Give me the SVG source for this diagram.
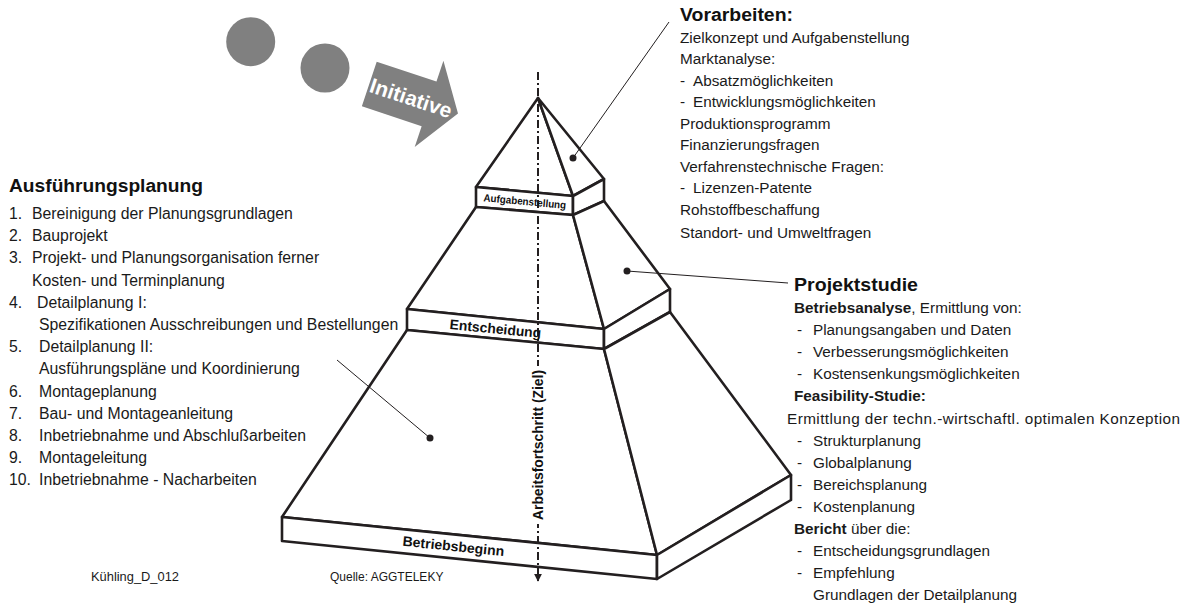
<svg xmlns="http://www.w3.org/2000/svg" width="1189" height="606" viewBox="0 0 1189 606">
  <defs>
    <style>
      .face { fill: #ffffff; stroke: #231f20; stroke-width: 2.6; stroke-linejoin: round; }
      .txt { font-family: "Liberation Sans", Arial, sans-serif; font-size: 15.3px; fill: #1a1a1a; }
      .lt { font-size: 15.8px; }
      .hd { font-family: "Liberation Sans", Arial, sans-serif; font-size: 17.5px; font-weight: bold; fill: #111111; }
      .b { font-weight: bold; }
      .band { font-family: "Liberation Sans", Arial, sans-serif; font-weight: bold; fill: #111111; }
      .small { font-family: "Liberation Sans", Arial, sans-serif; font-size: 12px; fill: #1a1a1a; }
      .leader { stroke: #231f20; stroke-width: 1; fill: none; }
      .dot { fill: #231f20; }
      .grey { fill: #808080; }
    </style>
    <marker id="axisHead" viewBox="0 0 10 10" refX="9" refY="5" markerWidth="4" markerHeight="4" orient="auto">
      <path d="M0,0 L10,5 L0,10 z" fill="#231f20"/>
    </marker>
  </defs>

  <!-- initiative symbol: two dots and a block arrow -->
  <g id="initiative">
    <circle class="grey" cx="250.7" cy="41.7" r="24.5"/>
    <circle class="grey" cx="325" cy="68" r="24.5"/>
    <g transform="translate(376.7,61.7) rotate(18.4)">
      <path class="grey" d="M0,0 L63,0 L63,-22 L93.5,23.5 L63,69 L63,47 L0,47 z"/>
      <text x="44" y="31" text-anchor="middle" font-family="Liberation Sans, Arial, sans-serif" font-size="21" font-weight="bold" fill="#ffffff">Initiative</text>
    </g>
  </g>

  <!-- pyramid: top tier -->
  <g id="tier-top">
    <polygon class="face" points="538,98 476,187 573,196"/>
    <polygon class="face" points="538,98 573,196 604,179"/>
  </g>
  <g id="band-aufgabenstellung">
    <polygon class="face" points="476,187 573,196 573,215 476,207"/>
    <polygon class="face" points="573,196 604,179 604,201 573,215"/>
  </g>

  <!-- pyramid: middle tier -->
  <g id="tier-middle">
    <polygon class="face" points="476,207 573,215 604,329 407,309"/>
    <polygon class="face" points="573,215 604,201 670,289 604,329"/>
  </g>
  <g id="band-entscheidung">
    <polygon class="face" points="407,309 604,329 604,349 407,330"/>
    <polygon class="face" points="604,329 670,289 670,312 604,349"/>
  </g>

  <!-- pyramid: bottom tier -->
  <g id="tier-bottom">
    <polygon class="face" points="407,330 604,349 657,555 282,517"/>
    <polygon class="face" points="604,349 670,312 791,475 657,555"/>
  </g>
  <g id="band-betriebsbeginn">
    <polygon class="face" points="282,517 657,555 657,579 282,541"/>
    <polygon class="face" points="657,555 791,475 791,500 657,579"/>
  </g>

  <!-- progress axis -->
  <g id="axis">
    <line x1="538" y1="72" x2="538" y2="581" stroke="#231f20" stroke-width="2" stroke-dasharray="8 3 2 3" marker-end="url(#axisHead)"/>
    <rect x="529" y="366" width="18" height="158" fill="#ffffff"/>
    <text class="band" font-size="14" transform="translate(543,445) rotate(-90)" text-anchor="middle" textLength="150" lengthAdjust="spacingAndGlyphs">Arbeitsfortschritt (Ziel)</text>
  </g>

  <!-- band labels -->
  <g id="band-labels">
    <text class="band" font-size="10.5" transform="translate(524.5,205) rotate(5.3)" text-anchor="middle" textLength="83" lengthAdjust="spacingAndGlyphs">Aufgabenstellung</text>
    <text class="band" font-size="14" transform="translate(495,333.5) rotate(5.5)" text-anchor="middle" textLength="92" lengthAdjust="spacingAndGlyphs">Entscheidung</text>
    <text class="band" font-size="14" transform="translate(453,551) rotate(5.8)" text-anchor="middle" textLength="102" lengthAdjust="spacingAndGlyphs">Betriebsbeginn</text>
  </g>

  <!-- leader lines from faces to their descriptions -->
  <g id="connectors">
    <line class="leader" x1="573" y1="158" x2="669" y2="22"/>
    <circle class="dot" cx="573" cy="158" r="3.5"/>
    <line class="leader" x1="627" y1="271" x2="788" y2="283"/>
    <circle class="dot" cx="627" cy="271" r="3.5"/>
    <line class="leader" x1="337" y1="360" x2="430" y2="438"/>
    <circle class="dot" cx="430" cy="438" r="3.5"/>
  </g>

  <!-- Vorarbeiten -->
  <g id="text-vorarbeiten">
    <text class="hd" x="680" y="21" textLength="113" lengthAdjust="spacingAndGlyphs">Vorarbeiten:</text>
    <text class="txt" x="680" y="42.5">Zielkonzept und Aufgabenstellung</text>
    <text class="txt" x="680" y="64">Marktanalyse:</text>
    <text class="txt" x="680" y="85.5">-</text>
    <text class="txt" x="693" y="85.5">Absatzmöglichkeiten</text>
    <text class="txt" x="680" y="107">-</text>
    <text class="txt" x="693" y="107">Entwicklungsmöglichkeiten</text>
    <text class="txt" x="680" y="128.5">Produktionsprogramm</text>
    <text class="txt" x="680" y="150">Finanzierungsfragen</text>
    <text class="txt" x="680" y="171.5">Verfahrenstechnische Fragen:</text>
    <text class="txt" x="680" y="193">-</text>
    <text class="txt" x="693" y="193">Lizenzen-Patente</text>
    <text class="txt" x="680" y="214.5">Rohstoffbeschaffung</text>
    <text class="txt" x="680" y="238">Standort- und Umweltfragen</text>
  </g>

  <!-- Projektstudie -->
  <g id="text-projektstudie">
    <text class="hd" x="794" y="291" textLength="124" lengthAdjust="spacingAndGlyphs">Projektstudie</text>
    <text class="txt" x="794" y="313"><tspan class="b">Betriebsanalyse</tspan>, Ermittlung von:</text>
    <text class="txt" x="797" y="335.1">-</text>
    <text class="txt" x="813" y="335.1">Planungsangaben und Daten</text>
    <text class="txt" x="797" y="357.2">-</text>
    <text class="txt" x="813" y="357.2">Verbesserungsmöglichkeiten</text>
    <text class="txt" x="797" y="379.3">-</text>
    <text class="txt" x="813" y="379.3">Kostensenkungsmöglichkeiten</text>
    <text class="txt b" x="794" y="401.4">Feasibility-Studie:</text>
    <text class="txt" x="787" y="423.5" textLength="393" lengthAdjust="spacing">Ermittlung der techn.-wirtschaftl. optimalen Konzeption</text>
    <text class="txt" x="797" y="445.6">-</text>
    <text class="txt" x="813" y="445.6">Strukturplanung</text>
    <text class="txt" x="797" y="467.7">-</text>
    <text class="txt" x="813" y="467.7">Globalplanung</text>
    <text class="txt" x="797" y="489.8">-</text>
    <text class="txt" x="813" y="489.8">Bereichsplanung</text>
    <text class="txt" x="797" y="511.9">-</text>
    <text class="txt" x="813" y="511.9">Kostenplanung</text>
    <text class="txt" x="794" y="534"><tspan class="b">Bericht</tspan> über die:</text>
    <text class="txt" x="797" y="556.1">-</text>
    <text class="txt" x="813" y="556.1">Entscheidungsgrundlagen</text>
    <text class="txt" x="797" y="578.2">-</text>
    <text class="txt" x="813" y="578.2">Empfehlung</text>
    <text class="txt" x="813" y="600.3">Grundlagen der Detailplanung</text>
  </g>

  <!-- Ausführungsplanung -->
  <g id="text-ausfuehrungsplanung">
    <text class="hd" x="9" y="192" textLength="194" lengthAdjust="spacingAndGlyphs">Ausführungsplanung</text>
    <text class="txt lt" x="9" y="219">1.</text>
    <text class="txt lt" x="32" y="219">Bereinigung der Planungsgrundlagen</text>
    <text class="txt lt" x="9" y="241.2">2.</text>
    <text class="txt lt" x="32" y="241.2">Bauprojekt</text>
    <text class="txt lt" x="9" y="263.4">3.</text>
    <text class="txt lt" x="32" y="263.4">Projekt- und Planungsorganisation ferner</text>
    <text class="txt lt" x="32" y="285.6">Kosten- und Terminplanung</text>
    <text class="txt lt" x="9" y="307.8">4.</text>
    <text class="txt lt" x="37" y="307.8">Detailplanung I:</text>
    <text class="txt lt" x="39" y="330">Spezifikationen Ausschreibungen und Bestellungen</text>
    <text class="txt lt" x="9" y="352.2">5.</text>
    <text class="txt lt" x="39" y="352.2">Detailplanung II:</text>
    <text class="txt lt" x="39" y="374.4">Ausführungspläne und Koordinierung</text>
    <text class="txt lt" x="9" y="396.6">6.</text>
    <text class="txt lt" x="39" y="396.6">Montageplanung</text>
    <text class="txt lt" x="9" y="418.8">7.</text>
    <text class="txt lt" x="39" y="418.8">Bau- und Montageanleitung</text>
    <text class="txt lt" x="9" y="441">8.</text>
    <text class="txt lt" x="39" y="441">Inbetriebnahme und Abschlußarbeiten</text>
    <text class="txt lt" x="9" y="463.2">9.</text>
    <text class="txt lt" x="39" y="463.2">Montageleitung</text>
    <text class="txt lt" x="9" y="485.4">10.</text>
    <text class="txt lt" x="39" y="485.4">Inbetriebnahme - Nacharbeiten</text>
  </g>

  <!-- footer -->
  <g id="footer">
    <text class="small" x="91" y="581" textLength="88" lengthAdjust="spacingAndGlyphs">Kühling_D_012</text>
    <text class="small" x="330" y="581">Quelle: AGGTELEKY</text>
  </g>
</svg>
